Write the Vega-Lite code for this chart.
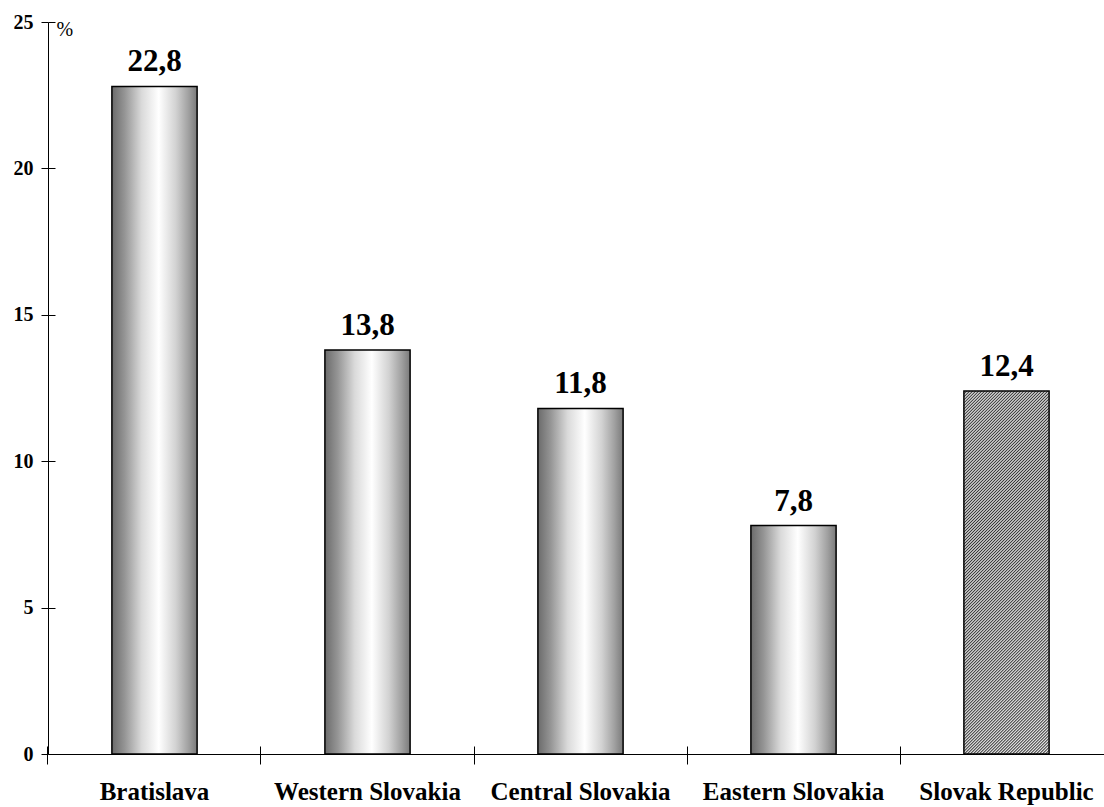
{
  "$schema": "https://vega.github.io/schema/vega-lite/v6.json",
  "width": 1056,
  "height": 732,
  "autosize": {"type": "none"},
  "padding": {"left": 48, "top": 22, "right": 0, "bottom": 53},
  "background": "white",
  "config": {
    "view": {"stroke": null},
    "font": "Liberation Serif",
    "locale": {"number": {"decimal": ",", "thousands": " ", "grouping": [3], "currency": ["", ""]}}
  },
  "data": {
    "values": [
      {"region": "Bratislava", "value": 22.8},
      {"region": "Western Slovakia", "value": 13.8},
      {"region": "Central Slovakia", "value": 11.8},
      {"region": "Eastern Slovakia", "value": 7.8},
      {"region": "Slovak Republic", "value": 12.4}
    ]
  },
  "layer": [
    {
      "transform": [{"filter": "datum.region !== 'Slovak Republic'"}],
      "mark": {
        "type": "bar",
        "color": {
          "gradient": "linear",
          "x1": 0, "y1": 0, "x2": 1, "y2": 0,
          "stops": [
            {"offset": 0, "color": "#6b6b6b"},
            {"offset": 0.15, "color": "#959595"},
            {"offset": 0.35, "color": "#dadada"},
            {"offset": 0.55, "color": "#ffffff"},
            {"offset": 0.75, "color": "#d2d2d2"},
            {"offset": 0.9, "color": "#a0a0a0"},
            {"offset": 1, "color": "#7a7a7a"}
          ]
        },
        "stroke": "black",
        "strokeWidth": 1.5
      },
      "encoding": {
        "x": {
          "field": "region", "type": "nominal", "sort": null,
          "scale": {"domain": ["Bratislava", "Western Slovakia", "Central Slovakia", "Eastern Slovakia", "Slovak Republic"], "range": [0, 1065], "paddingInner": 0.6, "paddingOuter": 0.3},
          "axis": {
            "orient": "bottom", "title": null, "ticks": true, "bandPosition": -0.75, "tickSize": 10, "tickColor": "black", "tickWidth": 1,
            "domainColor": "black", "domainWidth": 1, "labelAngle": 0, "labelFontSize": 25, "labelFontWeight": "bold",
            "labelColor": "black", "labelPadding": 15, "labelFont": "Liberation Serif", "labelLimit": 0
          }
        },
        "y": {
          "field": "value", "type": "quantitative",
          "scale": {"domain": [0, 25], "nice": false},
          "axis": {
            "orient": "left", "values": [0, 5, 10, 15, 20, 25], "grid": false, "ticks": true, "tickSize": 7, "tickColor": "black",
            "domainColor": "black", "labelFontSize": 20, "labelFontWeight": "bold", "labelColor": "black", "labelPadding": 8,
            "labelFont": "Liberation Serif",
            "title": "%", "titleAngle": 0, "titleFontWeight": "normal", "titleFontSize": 20, "titleAlign": "left",
            "titleBaseline": "alphabetic", "titleX": 8, "titleY": 13, "titleColor": "black", "titleFont": "Liberation Serif"
          }
        }
      }
    },
    {
      "transform": [{"filter": "datum.region === 'Slovak Republic'"}],
      "mark": {
        "type": "bar",
        "color": {
          "gradient": "linear",
          "x1": 0, "y1": 0, "x2": 0.2746, "y2": 1.1702,
          "stops": [
{"offset":0,"color":"#383838"},{"offset":0.00335,"color":"#f8f8f8"},{"offset":0.0067,"color":"#383838"},{"offset":0.01005,"color":"#f8f8f8"},{"offset":0.0134,"color":"#383838"},{"offset":0.01675,"color":"#f8f8f8"},{"offset":0.0201,"color":"#383838"},{"offset":0.02345,"color":"#f8f8f8"},{"offset":0.0268,"color":"#383838"},{"offset":0.03015,"color":"#f8f8f8"},
{"offset":0.0335,"color":"#383838"},{"offset":0.03685,"color":"#f8f8f8"},{"offset":0.0402,"color":"#383838"},{"offset":0.04355,"color":"#f8f8f8"},{"offset":0.0469,"color":"#383838"},{"offset":0.05025,"color":"#f8f8f8"},{"offset":0.0536,"color":"#383838"},{"offset":0.05695,"color":"#f8f8f8"},{"offset":0.0603,"color":"#383838"},{"offset":0.06365,"color":"#f8f8f8"},
{"offset":0.067,"color":"#383838"},{"offset":0.07035,"color":"#f8f8f8"},{"offset":0.0737,"color":"#383838"},{"offset":0.07705,"color":"#f8f8f8"},{"offset":0.0804,"color":"#383838"},{"offset":0.08375,"color":"#f8f8f8"},{"offset":0.0871,"color":"#383838"},{"offset":0.09045,"color":"#f8f8f8"},{"offset":0.0938,"color":"#383838"},{"offset":0.09715,"color":"#f8f8f8"},
{"offset":0.1005,"color":"#383838"},{"offset":0.10385,"color":"#f8f8f8"},{"offset":0.1072,"color":"#383838"},{"offset":0.11055,"color":"#f8f8f8"},{"offset":0.1139,"color":"#383838"},{"offset":0.11725,"color":"#f8f8f8"},{"offset":0.1206,"color":"#383838"},{"offset":0.12395,"color":"#f8f8f8"},{"offset":0.1273,"color":"#383838"},{"offset":0.13065,"color":"#f8f8f8"},
{"offset":0.134,"color":"#383838"},{"offset":0.13735,"color":"#f8f8f8"},{"offset":0.1407,"color":"#383838"},{"offset":0.14405,"color":"#f8f8f8"},{"offset":0.1474,"color":"#383838"},{"offset":0.15075,"color":"#f8f8f8"},{"offset":0.1541,"color":"#383838"},{"offset":0.15745,"color":"#f8f8f8"},{"offset":0.1608,"color":"#383838"},{"offset":0.16415,"color":"#f8f8f8"},
{"offset":0.1675,"color":"#383838"},{"offset":0.17085,"color":"#f8f8f8"},{"offset":0.1742,"color":"#383838"},{"offset":0.17755,"color":"#f8f8f8"},{"offset":0.1809,"color":"#383838"},{"offset":0.18425,"color":"#f8f8f8"},{"offset":0.1876,"color":"#383838"},{"offset":0.19095,"color":"#f8f8f8"},{"offset":0.1943,"color":"#383838"},{"offset":0.19765,"color":"#f8f8f8"},
{"offset":0.201,"color":"#383838"},{"offset":0.20435,"color":"#f8f8f8"},{"offset":0.2077,"color":"#383838"},{"offset":0.21105,"color":"#f8f8f8"},{"offset":0.2144,"color":"#383838"},{"offset":0.21775,"color":"#f8f8f8"},{"offset":0.2211,"color":"#383838"},{"offset":0.22445,"color":"#f8f8f8"},{"offset":0.2278,"color":"#383838"},{"offset":0.23115,"color":"#f8f8f8"},
{"offset":0.2345,"color":"#383838"},{"offset":0.23785,"color":"#f8f8f8"},{"offset":0.2412,"color":"#383838"},{"offset":0.24455,"color":"#f8f8f8"},{"offset":0.2479,"color":"#383838"},{"offset":0.25125,"color":"#f8f8f8"},{"offset":0.2546,"color":"#383838"},{"offset":0.25795,"color":"#f8f8f8"},{"offset":0.2613,"color":"#383838"},{"offset":0.26465,"color":"#f8f8f8"},
{"offset":0.268,"color":"#383838"},{"offset":0.27135,"color":"#f8f8f8"},{"offset":0.2747,"color":"#383838"},{"offset":0.27805,"color":"#f8f8f8"},{"offset":0.2814,"color":"#383838"},{"offset":0.28475,"color":"#f8f8f8"},{"offset":0.2881,"color":"#383838"},{"offset":0.29145,"color":"#f8f8f8"},{"offset":0.2948,"color":"#383838"},{"offset":0.29815,"color":"#f8f8f8"},
{"offset":0.3015,"color":"#383838"},{"offset":0.30485,"color":"#f8f8f8"},{"offset":0.3082,"color":"#383838"},{"offset":0.31155,"color":"#f8f8f8"},{"offset":0.3149,"color":"#383838"},{"offset":0.31825,"color":"#f8f8f8"},{"offset":0.3216,"color":"#383838"},{"offset":0.32495,"color":"#f8f8f8"},{"offset":0.3283,"color":"#383838"},{"offset":0.33165,"color":"#f8f8f8"},
{"offset":0.335,"color":"#383838"},{"offset":0.33835,"color":"#f8f8f8"},{"offset":0.3417,"color":"#383838"},{"offset":0.34505,"color":"#f8f8f8"},{"offset":0.3484,"color":"#383838"},{"offset":0.35175,"color":"#f8f8f8"},{"offset":0.3551,"color":"#383838"},{"offset":0.35845,"color":"#f8f8f8"},{"offset":0.3618,"color":"#383838"},{"offset":0.36515,"color":"#f8f8f8"},
{"offset":0.3685,"color":"#383838"},{"offset":0.37185,"color":"#f8f8f8"},{"offset":0.3752,"color":"#383838"},{"offset":0.37855,"color":"#f8f8f8"},{"offset":0.3819,"color":"#383838"},{"offset":0.38525,"color":"#f8f8f8"},{"offset":0.3886,"color":"#383838"},{"offset":0.39195,"color":"#f8f8f8"},{"offset":0.3953,"color":"#383838"},{"offset":0.39865,"color":"#f8f8f8"},
{"offset":0.402,"color":"#383838"},{"offset":0.40535,"color":"#f8f8f8"},{"offset":0.4087,"color":"#383838"},{"offset":0.41205,"color":"#f8f8f8"},{"offset":0.4154,"color":"#383838"},{"offset":0.41875,"color":"#f8f8f8"},{"offset":0.4221,"color":"#383838"},{"offset":0.42545,"color":"#f8f8f8"},{"offset":0.4288,"color":"#383838"},{"offset":0.43215,"color":"#f8f8f8"},
{"offset":0.4355,"color":"#383838"},{"offset":0.43885,"color":"#f8f8f8"},{"offset":0.4422,"color":"#383838"},{"offset":0.44555,"color":"#f8f8f8"},{"offset":0.4489,"color":"#383838"},{"offset":0.45225,"color":"#f8f8f8"},{"offset":0.4556,"color":"#383838"},{"offset":0.45895,"color":"#f8f8f8"},{"offset":0.4623,"color":"#383838"},{"offset":0.46565,"color":"#f8f8f8"},
{"offset":0.469,"color":"#383838"},{"offset":0.47235,"color":"#f8f8f8"},{"offset":0.4757,"color":"#383838"},{"offset":0.47905,"color":"#f8f8f8"},{"offset":0.4824,"color":"#383838"},{"offset":0.48575,"color":"#f8f8f8"},{"offset":0.4891,"color":"#383838"},{"offset":0.49245,"color":"#f8f8f8"},{"offset":0.4958,"color":"#383838"},{"offset":0.49915,"color":"#f8f8f8"},
{"offset":0.5025,"color":"#383838"},{"offset":0.50585,"color":"#f8f8f8"},{"offset":0.5092,"color":"#383838"},{"offset":0.51255,"color":"#f8f8f8"},{"offset":0.5159,"color":"#383838"},{"offset":0.51925,"color":"#f8f8f8"},{"offset":0.5226,"color":"#383838"},{"offset":0.52595,"color":"#f8f8f8"},{"offset":0.5293,"color":"#383838"},{"offset":0.53265,"color":"#f8f8f8"},
{"offset":0.536,"color":"#383838"},{"offset":0.53935,"color":"#f8f8f8"},{"offset":0.5427,"color":"#383838"},{"offset":0.54605,"color":"#f8f8f8"},{"offset":0.5494,"color":"#383838"},{"offset":0.55275,"color":"#f8f8f8"},{"offset":0.5561,"color":"#383838"},{"offset":0.55945,"color":"#f8f8f8"},{"offset":0.5628,"color":"#383838"},{"offset":0.56615,"color":"#f8f8f8"},
{"offset":0.5695,"color":"#383838"},{"offset":0.57285,"color":"#f8f8f8"},{"offset":0.5762,"color":"#383838"},{"offset":0.57955,"color":"#f8f8f8"},{"offset":0.5829,"color":"#383838"},{"offset":0.58625,"color":"#f8f8f8"},{"offset":0.5896,"color":"#383838"},{"offset":0.59295,"color":"#f8f8f8"},{"offset":0.5963,"color":"#383838"},{"offset":0.59965,"color":"#f8f8f8"},
{"offset":0.603,"color":"#383838"},{"offset":0.60635,"color":"#f8f8f8"},{"offset":0.6097,"color":"#383838"},{"offset":0.61305,"color":"#f8f8f8"},{"offset":0.6164,"color":"#383838"},{"offset":0.61975,"color":"#f8f8f8"},{"offset":0.6231,"color":"#383838"},{"offset":0.62645,"color":"#f8f8f8"},{"offset":0.6298,"color":"#383838"},{"offset":0.63315,"color":"#f8f8f8"},
{"offset":0.6365,"color":"#383838"},{"offset":0.63985,"color":"#f8f8f8"},{"offset":0.6432,"color":"#383838"},{"offset":0.64655,"color":"#f8f8f8"},{"offset":0.6499,"color":"#383838"},{"offset":0.65325,"color":"#f8f8f8"},{"offset":0.6566,"color":"#383838"},{"offset":0.65995,"color":"#f8f8f8"},{"offset":0.6633,"color":"#383838"},{"offset":0.66665,"color":"#f8f8f8"},
{"offset":0.67,"color":"#383838"},{"offset":0.67335,"color":"#f8f8f8"},{"offset":0.6767,"color":"#383838"},{"offset":0.68005,"color":"#f8f8f8"},{"offset":0.6834,"color":"#383838"},{"offset":0.68675,"color":"#f8f8f8"},{"offset":0.6901,"color":"#383838"},{"offset":0.69345,"color":"#f8f8f8"},{"offset":0.6968,"color":"#383838"},{"offset":0.70015,"color":"#f8f8f8"},
{"offset":0.7035,"color":"#383838"},{"offset":0.70685,"color":"#f8f8f8"},{"offset":0.7102,"color":"#383838"},{"offset":0.71355,"color":"#f8f8f8"},{"offset":0.7169,"color":"#383838"},{"offset":0.72025,"color":"#f8f8f8"},{"offset":0.7236,"color":"#383838"},{"offset":0.72695,"color":"#f8f8f8"},{"offset":0.7303,"color":"#383838"},{"offset":0.73365,"color":"#f8f8f8"},
{"offset":0.737,"color":"#383838"},{"offset":0.74035,"color":"#f8f8f8"},{"offset":0.7437,"color":"#383838"},{"offset":0.74705,"color":"#f8f8f8"},{"offset":0.7504,"color":"#383838"},{"offset":0.75375,"color":"#f8f8f8"},{"offset":0.7571,"color":"#383838"},{"offset":0.76045,"color":"#f8f8f8"},{"offset":0.7638,"color":"#383838"},{"offset":0.76715,"color":"#f8f8f8"},
{"offset":0.7705,"color":"#383838"},{"offset":0.77385,"color":"#f8f8f8"},{"offset":0.7772,"color":"#383838"},{"offset":0.78055,"color":"#f8f8f8"},{"offset":0.7839,"color":"#383838"},{"offset":0.78725,"color":"#f8f8f8"},{"offset":0.7906,"color":"#383838"},{"offset":0.79395,"color":"#f8f8f8"},{"offset":0.7973,"color":"#383838"},{"offset":0.80065,"color":"#f8f8f8"},
{"offset":0.804,"color":"#383838"},{"offset":0.80735,"color":"#f8f8f8"},{"offset":0.8107,"color":"#383838"},{"offset":0.81405,"color":"#f8f8f8"},{"offset":0.8174,"color":"#383838"},{"offset":0.82075,"color":"#f8f8f8"},{"offset":0.8241,"color":"#383838"},{"offset":0.82745,"color":"#f8f8f8"},{"offset":0.8308,"color":"#383838"},{"offset":0.83415,"color":"#f8f8f8"},
{"offset":0.8375,"color":"#383838"},{"offset":0.84085,"color":"#f8f8f8"},{"offset":0.8442,"color":"#383838"},{"offset":0.84755,"color":"#f8f8f8"},{"offset":0.8509,"color":"#383838"},{"offset":0.85425,"color":"#f8f8f8"},{"offset":0.8576,"color":"#383838"},{"offset":0.86095,"color":"#f8f8f8"},{"offset":0.8643,"color":"#383838"},{"offset":0.86765,"color":"#f8f8f8"},
{"offset":0.871,"color":"#383838"},{"offset":0.87435,"color":"#f8f8f8"},{"offset":0.8777,"color":"#383838"},{"offset":0.88105,"color":"#f8f8f8"},{"offset":0.8844,"color":"#383838"},{"offset":0.88775,"color":"#f8f8f8"},{"offset":0.8911,"color":"#383838"},{"offset":0.89445,"color":"#f8f8f8"},{"offset":0.8978,"color":"#383838"},{"offset":0.90115,"color":"#f8f8f8"},
{"offset":0.9045,"color":"#383838"},{"offset":0.90785,"color":"#f8f8f8"},{"offset":0.9112,"color":"#383838"},{"offset":0.91455,"color":"#f8f8f8"},{"offset":0.9179,"color":"#383838"},{"offset":0.92125,"color":"#f8f8f8"},{"offset":0.9246,"color":"#383838"},{"offset":0.92795,"color":"#f8f8f8"},{"offset":0.9313,"color":"#383838"},{"offset":0.93465,"color":"#f8f8f8"},
{"offset":0.938,"color":"#383838"},{"offset":0.94135,"color":"#f8f8f8"},{"offset":0.9447,"color":"#383838"},{"offset":0.94805,"color":"#f8f8f8"},{"offset":0.9514,"color":"#383838"},{"offset":0.95475,"color":"#f8f8f8"},{"offset":0.9581,"color":"#383838"},{"offset":0.96145,"color":"#f8f8f8"},{"offset":0.9648,"color":"#383838"},{"offset":0.96815,"color":"#f8f8f8"},
{"offset":0.9715,"color":"#383838"},{"offset":0.97485,"color":"#f8f8f8"},{"offset":0.9782,"color":"#383838"},{"offset":0.98155,"color":"#f8f8f8"},{"offset":0.9849,"color":"#383838"},{"offset":0.98825,"color":"#f8f8f8"},{"offset":0.9916,"color":"#383838"},{"offset":0.99495,"color":"#f8f8f8"},{"offset":0.9983,"color":"#383838"},{"offset":1,"color":"#f8f8f8"}
          ]
        },
        "stroke": "black",
        "strokeWidth": 1.5
      },
      "encoding": {
        "x": {
          "field": "region", "type": "nominal", "sort": null,
          "scale": {"domain": ["Bratislava", "Western Slovakia", "Central Slovakia", "Eastern Slovakia", "Slovak Republic"], "range": [0, 1065], "paddingInner": 0.6, "paddingOuter": 0.3},
          "axis": {"orient": "bottom", "title": null, "ticks": true, "bandPosition": -0.75, "tickSize": 8, "offset": -8, "tickColor": "black", "labels": true, "labelExpr": "''", "labelOpacity": 0, "domain": false}
        },
        "y": {
          "field": "value", "type": "quantitative",
          "scale": {"domain": [0, 25], "nice": false},
          "axis": {"orient": "left", "values": [0, 5, 10, 15, 20, 25], "grid": false, "ticks": true, "tickSize": 7, "offset": -7, "tickColor": "black", "labels": true, "labelExpr": "''", "labelOpacity": 0, "domain": false, "title": null}
        }
      }
    },
    {
      "mark": {"type": "text", "baseline": "alphabetic", "dy": -15, "fontSize": 31, "fontWeight": "bold", "color": "black", "font": "Liberation Serif"},
      "encoding": {
        "x": {
          "field": "region", "type": "nominal", "sort": null,
          "scale": {"domain": ["Bratislava", "Western Slovakia", "Central Slovakia", "Eastern Slovakia", "Slovak Republic"], "range": [0, 1065], "paddingInner": 0.6, "paddingOuter": 0.3},
          "axis": null
        },
        "y": {"field": "value", "type": "quantitative", "scale": {"domain": [0, 25], "nice": false}, "axis": null},
        "text": {"field": "value", "type": "quantitative", "format": ".1f"}
      }
    }
  ],
  "resolve": {"axis": {"x": "independent", "y": "independent"}}
}
